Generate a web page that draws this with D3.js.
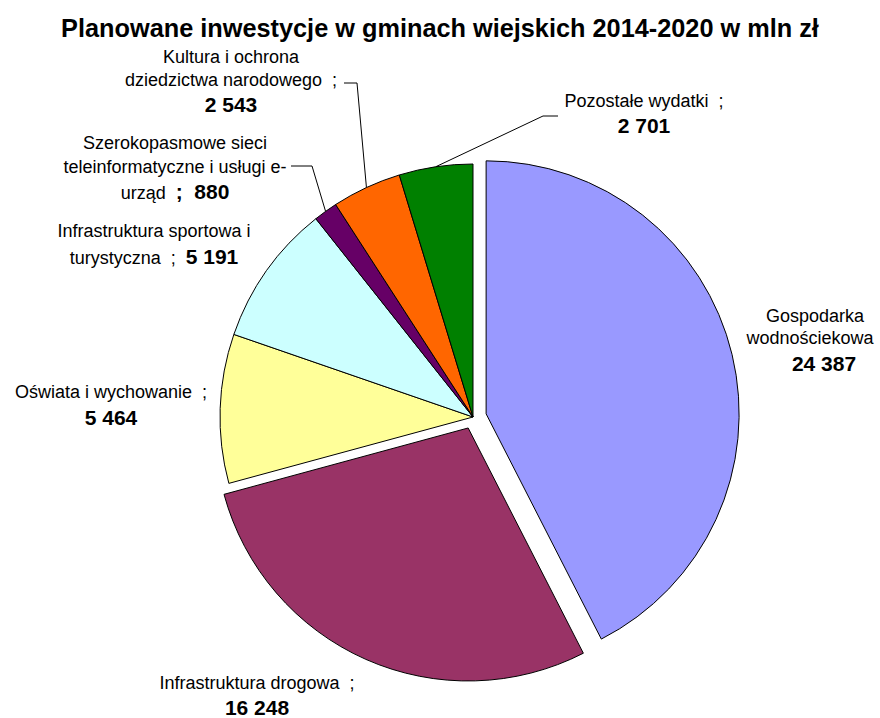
<!DOCTYPE html>
<html lang="pl">
<head>
  <meta charset="UTF-8">
  <title>Planowane inwestycje w gminach wiejskich 2014-2020</title>
  <script src="https://d3js.org/d3.v7.min.js"></script>
  <style>
    body { margin: 0; background: #fff; }
    text { font-family: "Liberation Sans", Arial, sans-serif; white-space: pre; }
    .slice { stroke: #000; stroke-width: 1; }
    .lead { fill: none; stroke: #000; stroke-width: 1; }
  </style>
</head>
<body>
<div id="chart"></div>
<script>
// dane
const categories = [
  "Gospodarka wodnościekowa",
  "Infrastruktura drogowa",
  "Oświata i wychowanie",
  "Infrastruktura sportowa i turystyczna",
  "Szerokopasmowe sieci teleinformatyczne i usługi e-urząd",
  "Kultura i ochrona dziedzictwa narodowego",
  "Pozostałe wydatki"
];
const values = [24387, 16248, 5464, 5191, 880, 2543, 2701];
const colors = ["#9999ff", "#993366", "#ffff99", "#ccffff", "#660066", "#ff6600", "#008000"];
const exploded = [13.5, 12, 0, 0, 0, 0, 0];

// tekst etykiet: wiersze, [tekst, pogrubiony]; "#" = wartość
const labelLines = [
  [[["Gospodarka", false]], [["wodnościekowa", false]], [["#", true]]],
  [[["Infrastruktura drogowa  ;", false]], [["#", true]]],
  [[["Oświata i wychowanie  ;", false]], [["#", true]]],
  [[["Infrastruktura sportowa i", false]], [["turystyczna  ;  ", false], ["#", true]]],
  [[["Szerokopasmowe sieci", false]], [["teleinformatyczne i usługi e-", false]], [["urząd  ", false], [";  #", true]]],
  [[["Kultura i ochrona", false]], [["dziedzictwa narodowego  ;", false]], [["#", true]]],
  [[["Pozostałe wydatki  ;", false]], [["#", true]]]
];

// układ etykiet (środek, linie bazowe)
const labelPos = [
  {x: 815, ys: [322, 344, 371], dx: [0, -5, 9]},
  {x: 257, ys: [689, 715]},
  {x: 111, ys: [398, 425]},
  {x: 154, ys: [237, 264]},
  {x: 175, ys: [149, 173, 199]},
  {x: 231, ys: [63, 86, 112]},
  {x: 644, ys: [107, 133]}
];
// linie odniesienia: [start, załamanie], koniec na łuku
const leaders = {4: [[291, 166], [312, 166]], 5: [[344, 83], [357, 83]], 6: [[558, 116], [543, 116]]};

const W = 880, H = 718;
const cx = 473, cy = 417, R = 253;

const svg = d3.select("#chart").append("svg")
  .attr("width", W).attr("height", H);

svg.append("text")
  .attr("x", 440).attr("y", 37)
  .attr("text-anchor", "middle")
  .style("font-size", "25.3px").style("font-weight", "bold")
  .text("Planowane inwestycje w gminach wiejskich 2014-2020 w mln zł");

const fmt = d3.formatLocale({decimal: ",", thousands: " ", grouping: [3]}).format(",d");

const pie = d3.pie().sort(null).value(d => d);
const arcs = pie(values);
const arc = d3.arc().innerRadius(0).outerRadius(R);
const rim = d3.arc().innerRadius(R).outerRadius(R);

const g = svg.append("g").attr("transform", `translate(${cx},${cy})`);

g.selectAll("path")
  .data(arcs)
  .join("path")
    .attr("class", "slice")
    .attr("d", arc)
    .attr("fill", (d, i) => colors[i])
    .attr("transform", (d, i) => {
      const a = (d.startAngle + d.endAngle) / 2;
      const k = exploded[i];
      return `translate(${k * Math.sin(a)},${-k * Math.cos(a)})`;
    });

// linie odniesienia
Object.keys(leaders).forEach(k => {
  const i = +k;
  const [px, py] = rim.centroid(arcs[i]);
  const pts = leaders[i].concat([[cx + px, cy + py]]);
  svg.append("path").attr("class", "lead").attr("d", d3.line()(pts));
});

// etykiety
labelLines.forEach((lines, i) => {
  const pos = labelPos[i];
  lines.forEach((segs, j) => {
    const t = svg.append("text")
      .attr("x", pos.x + (pos.dx ? pos.dx[j] : 0))
      .attr("y", pos.ys[j])
      .attr("text-anchor", "middle")
      .attr("fill", "#000");
    segs.forEach(([s, bold]) => {
      t.append("tspan")
        .style("font-size", bold ? "21px" : "18px")
        .style("font-weight", bold ? "bold" : "normal")
        .text(s.replace("#", fmt(values[i])));
    });
  });
});
</script>
</body>
</html>
